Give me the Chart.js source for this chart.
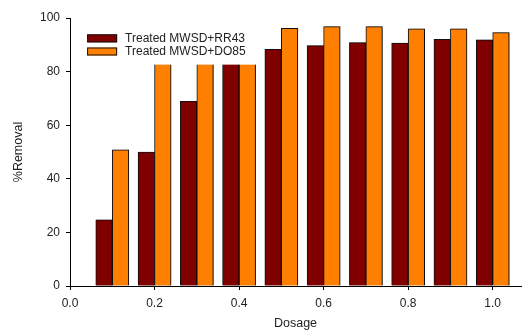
<!DOCTYPE html>
<html>
<head>
<meta charset="utf-8">
<script src="https://cdn.jsdelivr.net/npm/chart.js@4/dist/chart.umd.min.js"></script>
<style>
html,body{margin:0;padding:0;background:#fff;}
#wrap{width:523px;height:330px;position:relative;}
</style>
</head>
<body>
<div id="wrap"><canvas id="c"></canvas></div>
<script>
// ---- data ----
const dosage = [0.1, 0.2, 0.3, 0.4, 0.5, 0.6, 0.7, 0.8, 0.9, 1.0];
const rr43 = [24.7, 50.0, 68.9, 85.0, 88.3, 89.7, 90.8, 90.6, 92.0, 91.9];
const do85 = [50.8, 88.0, 92.0, 94.0, 96.1, 96.8, 96.8, 96.0, 96.0, 94.6];
const seriesLabels = ["Treated MWSD+RR43", "Treated MWSD+DO85"];
const xTicks = [0.0, 0.2, 0.4, 0.6, 0.8, 1.0];
const yTicks = [0, 20, 40, 60, 80, 100];

const FONT = "Arial, 'Liberation Sans', sans-serif";
const colors = ["#800000", "#ff8000"];

const legendPlugin = {
  id: 'boxLegend',
  afterDatasetsDraw(chart) {
    const ctx = chart.ctx;
    const xs = chart.scales.x, ys = chart.scales.y;
    ctx.save();
    ctx.shadowColor = 'transparent';
    // white legend box covering the area (as in original)
    const bx0 = xs.getPixelForValue(0.02), bx1 = xs.getPixelForValue(0.452);
    const by0 = ys.getPixelForValue(98), by1 = ys.getPixelForValue(82.6);
    ctx.fillStyle = '#ffffff';
    ctx.fillRect(bx0, by0, bx1 - bx0, by1 - by0);
    const sx = xs.getPixelForValue(0.0405);
    const sw = 30, sh = 8;
    const rows = [ys.getPixelForValue(92.4), ys.getPixelForValue(87.5)];
    ctx.font = "12px " + FONT;
    ctx.textBaseline = 'middle';
    ctx.textAlign = 'left';
    chart.data.datasets.forEach((ds, i) => {
      const cy = rows[i];
      ctx.fillStyle = ds.backgroundColor;
      ctx.fillRect(sx, cy - sh/2, sw, sh);
      ctx.strokeStyle = '#111';
      ctx.lineWidth = 1;
      ctx.strokeRect(sx + 0.5, cy - sh/2 + 0.5, sw - 1, sh - 1);
      ctx.fillStyle = '#222';
      ctx.fillText(ds.label, sx + sw + 8, cy + 0.5);
    });
    ctx.restore();
  }
};

const shadowPlugin = {
  id: 'barShadow',
  beforeDatasetsDraw(chart) {
    const ctx = chart.ctx;
    ctx.save();
    ctx.shadowColor = 'rgba(0,0,0,0.35)';
    ctx.shadowOffsetX = 1;
    ctx.shadowOffsetY = 0;
    ctx.shadowBlur = 1;
  },
  afterDatasetsDraw(chart) {
    chart.ctx.restore();
  }
};

const mk = (vals) => dosage.map((d, i) => ({x: d, y: vals[i]}));

new Chart(document.getElementById('c'), {
  type: 'bar',
  data: {
    datasets: [
      {label: seriesLabels[0], data: mk(rr43), backgroundColor: colors[0], borderColor: '#111', borderWidth: 1, barThickness: 16.5},
      {label: seriesLabels[1], data: mk(do85), backgroundColor: colors[1], borderColor: '#111', borderWidth: 1, barThickness: 16.5}
    ]
  },
  plugins: [shadowPlugin, legendPlugin],
  options: {
    responsive: true,
    maintainAspectRatio: false,
    animation: false,
    layout: {padding: {top: 18, right: 2, left: 0, bottom: 0}},
    plugins: {legend: {display: false}, tooltip: {enabled: false}},
    scales: {
      x: {
        type: 'linear',
        offset: false,
        min: 0, max: 1.067,
        afterFit(s) { s.height = 44; },
        afterBuildTicks(s) { s.ticks = xTicks.map(v => ({value: v})); },
        ticks: {
          includeBounds: false,
          color: '#222',
          padding: 6,
          font: {family: FONT, size: 12},
          maxRotation: 0,
          callback: v => Number(v).toFixed(1)
        },
        grid: {display: true, drawOnChartArea: false, drawTicks: true, tickLength: 4, color: '#000', offset: false},
        border: {display: true, color: '#000', width: 1},
        title: {display: true, text: 'Dosage', color: '#222', font: {family: FONT, size: 12.5, lineHeight: 1}, padding: 0}
      },
      y: {
        min: 0, max: 100,
        afterFit(s) { s.width = 70; },
        afterBuildTicks(s) { s.ticks = yTicks.map(v => ({value: v})); },
        ticks: {
          color: '#222',
          padding: 6,
          font: {family: FONT, size: 12}
        },
        grid: {display: true, drawOnChartArea: false, drawTicks: true, tickLength: 4, color: '#000'},
        border: {display: true, color: '#000', width: 1},
        title: {display: true, text: '%Removal', color: '#222', font: {family: FONT, size: 12.5, lineHeight: 1}, padding: {top: 12, bottom: 0}}
      }
    }
  }
});
</script>
</body>
</html>
